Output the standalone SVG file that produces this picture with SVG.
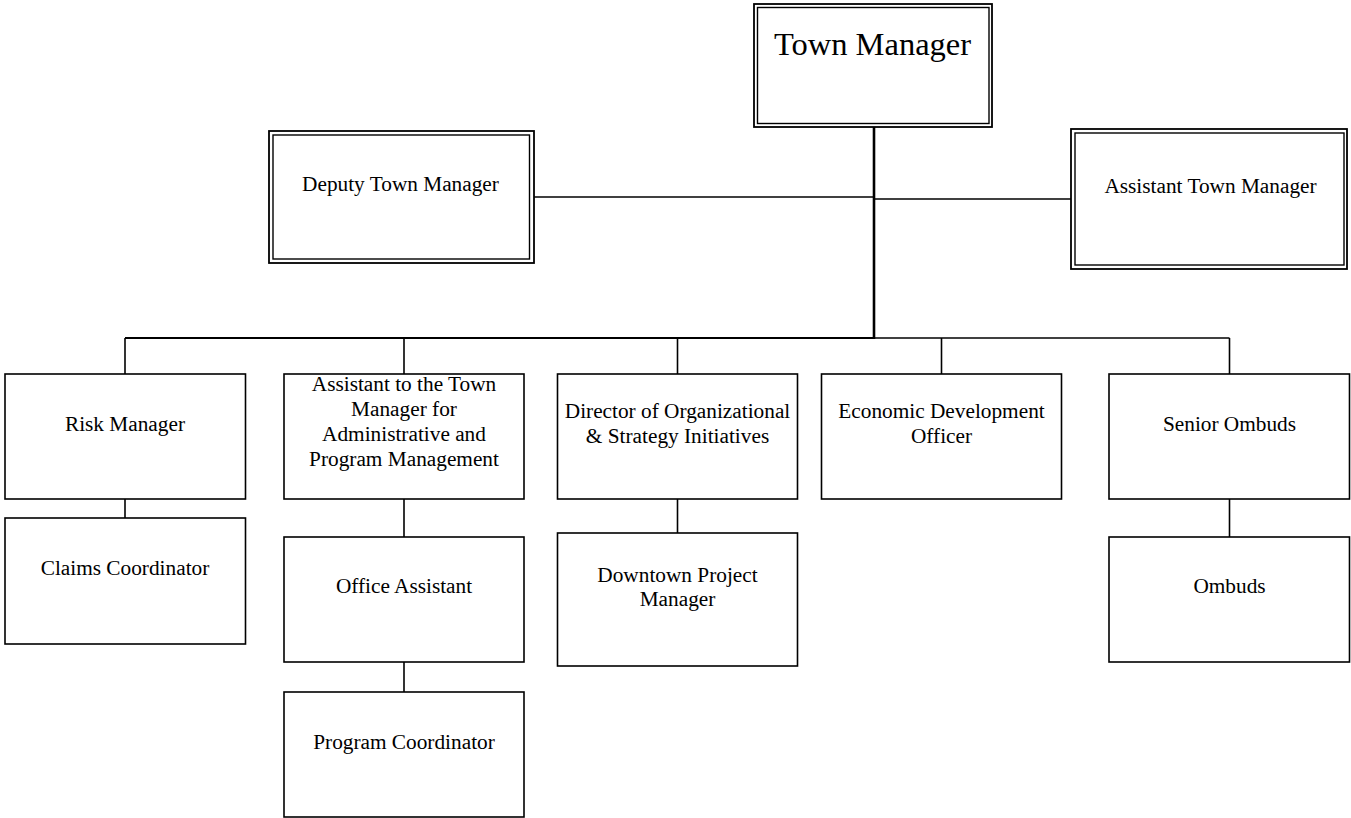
<svg xmlns="http://www.w3.org/2000/svg" width="1351" height="818" viewBox="0 0 1351 818">
<style>
  .box { fill: #fff; stroke: #000; stroke-width: 1.6; }
  .outer { fill: #fff; stroke: #000; stroke-width: 1.8; }
  .inner { fill: none; stroke: #000; stroke-width: 1.4; }
  .t { font-family: "Liberation Serif", "Times New Roman", serif; font-size: 21.3px; fill: #000; text-anchor: middle; }
  .big { font-size: 32.5px; }
  .ln { stroke: #000; stroke-width: 1.6; fill: none; }
  .thick { stroke-width: 2.6; }
  .mid { stroke-width: 2.1; }
</style>
<rect width="1351" height="818" fill="#fff"/>
<g id="connectors">
  <line class="ln thick" x1="874" y1="127" x2="874" y2="339"/>
  <line class="ln" x1="534" y1="197" x2="874" y2="197"/>
  <line class="ln" x1="874" y1="199" x2="1071" y2="199"/>
  <line class="ln mid" x1="125" y1="338" x2="875" y2="338"/>
  <line class="ln" x1="874" y1="338" x2="1229.5" y2="338"/>
  <line class="ln" x1="125" y1="338" x2="125" y2="374"/>
  <line class="ln" x1="404" y1="338" x2="404" y2="374"/>
  <line class="ln" x1="677.5" y1="338" x2="677.5" y2="374"/>
  <line class="ln" x1="941.5" y1="338" x2="941.5" y2="374"/>
  <line class="ln" x1="1229.5" y1="338" x2="1229.5" y2="374"/>
  <line class="ln" x1="125" y1="499" x2="125" y2="518"/>
  <line class="ln" x1="404" y1="499" x2="404" y2="537"/>
  <line class="ln" x1="404" y1="662" x2="404" y2="692"/>
  <line class="ln" x1="677.5" y1="499" x2="677.5" y2="533"/>
  <line class="ln" x1="1229.5" y1="499" x2="1229.5" y2="537"/>
</g>
<g id="town-manager">
  <rect class="outer" x="754" y="4" width="238" height="123"/>
  <rect class="inner" x="757.5" y="7.5" width="231.5" height="116"/>
  <text class="t big" x="872.5" y="55">Town Manager</text>
</g>
<g id="deputy-town-manager">
  <rect class="outer" x="269" y="131" width="265" height="132"/>
  <rect class="inner" x="273" y="135" width="256.5" height="124"/>
  <text class="t" x="400.5" y="191">Deputy Town Manager</text>
</g>
<g id="assistant-town-manager">
  <rect class="outer" x="1071" y="129" width="276" height="140"/>
  <rect class="inner" x="1075" y="133" width="269" height="132"/>
  <text class="t" x="1210.5" y="193">Assistant Town Manager</text>
</g>
<g id="risk-manager">
  <rect class="box" x="5" y="374" width="240.5" height="125"/>
  <text class="t" x="125" y="430.5">Risk Manager</text>
</g>
<g id="assistant-to-town-manager">
  <rect class="box" x="284" y="374" width="240" height="125"/>
  <text class="t" x="404" y="391">Assistant to the Town</text>
  <text class="t" x="404" y="416">Manager for</text>
  <text class="t" x="404" y="441">Administrative and</text>
  <text class="t" x="404" y="466">Program Management</text>
</g>
<g id="director-org-strategy">
  <rect class="box" x="557.5" y="374" width="240" height="125"/>
  <text class="t" x="677.5" y="418">Director of Organizational</text>
  <text class="t" x="677.5" y="443">&amp; Strategy Initiatives</text>
</g>
<g id="economic-development-officer">
  <rect class="box" x="821.5" y="374" width="240" height="125"/>
  <text class="t" x="941.5" y="418">Economic Development</text>
  <text class="t" x="941.5" y="443">Officer</text>
</g>
<g id="senior-ombuds">
  <rect class="box" x="1109" y="374" width="240.5" height="125"/>
  <text class="t" x="1229.5" y="430.5">Senior Ombuds</text>
</g>
<g id="claims-coordinator">
  <rect class="box" x="5" y="518" width="240.5" height="126"/>
  <text class="t" x="125" y="575">Claims Coordinator</text>
</g>
<g id="office-assistant">
  <rect class="box" x="284" y="537" width="240" height="125"/>
  <text class="t" x="404" y="593">Office Assistant</text>
</g>
<g id="program-coordinator">
  <rect class="box" x="284" y="692" width="240" height="125"/>
  <text class="t" x="404" y="749">Program Coordinator</text>
</g>
<g id="downtown-project-manager">
  <rect class="box" x="557.5" y="533" width="240" height="133"/>
  <text class="t" x="677.5" y="582">Downtown Project</text>
  <text class="t" x="677.5" y="606">Manager</text>
</g>
<g id="ombuds">
  <rect class="box" x="1109" y="537" width="240.5" height="125"/>
  <text class="t" x="1229.5" y="592.5">Ombuds</text>
</g>
</svg>
